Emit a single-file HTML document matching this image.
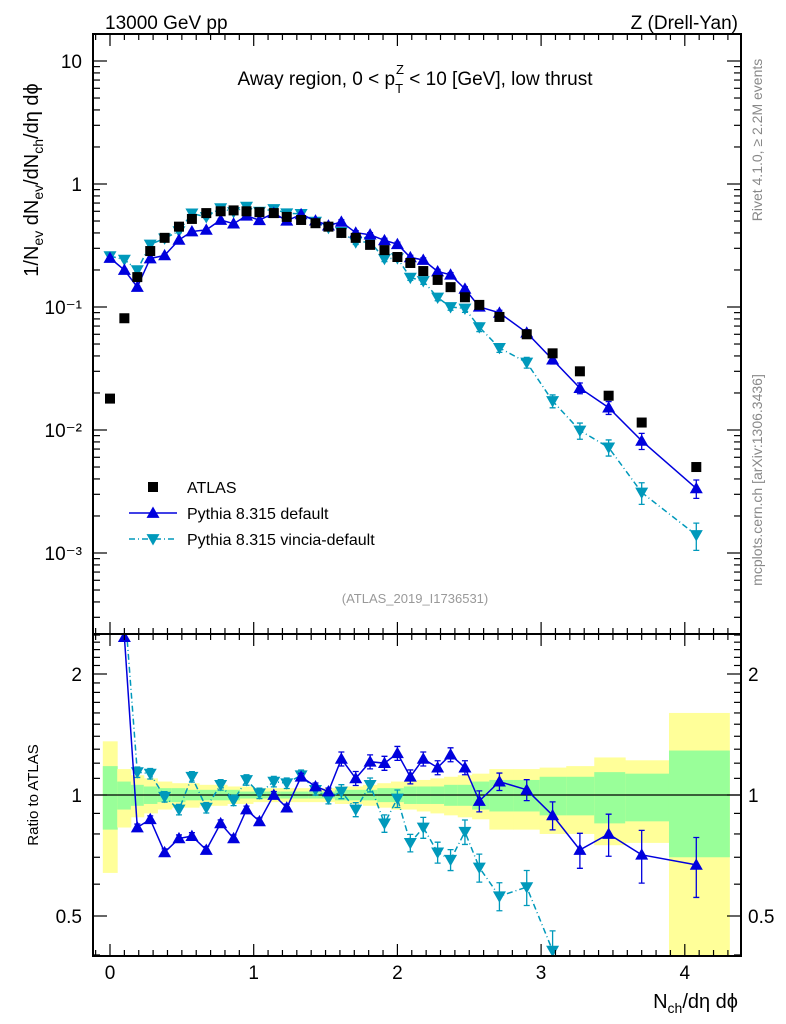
<!DOCTYPE html>
<html><head><meta charset="utf-8">
<style>
html,body{margin:0;padding:0;background:#fff;}
svg{display:block;font-family:"Liberation Sans",sans-serif;}
</style></head>
<body>
<svg id="c" width="786" height="1024" viewBox="0 0 786 1024" xmlns="http://www.w3.org/2000/svg">
<defs>
<clipPath id="cm"><rect x="93" y="34" width="648" height="600"/></clipPath>
<clipPath id="cr"><rect x="93" y="634" width="648" height="322"/></clipPath>
</defs>
<text x="105" y="29" font-size="19">13000 GeV pp</text>
<text x="738" y="29" font-size="19" text-anchor="end">Z (Drell-Yan)</text>
<text x="415" y="85" font-size="19" text-anchor="middle">Away region, 0 &lt; p<tspan font-size="13" dy="8">T</tspan><tspan font-size="13" dx="-7" dy="-19">Z</tspan><tspan dy="11"> &lt; 10 [GeV], low thrust</tspan></text>
<text transform="translate(762,140) rotate(-90)" font-size="14" fill="#888" text-anchor="middle">Rivet 4.1.0, ≥ 2.2M events</text>
<text transform="translate(762,480) rotate(-90)" font-size="14" fill="#888" text-anchor="middle">mcplots.cern.ch [arXiv:1306.3436]</text>
<text transform="translate(38,180) rotate(-90)" font-size="20" text-anchor="middle">1/N<tspan font-size="14" dy="5">ev</tspan><tspan dy="-5"> dN</tspan><tspan font-size="14" dy="5">ev</tspan><tspan dy="-5">/dN</tspan><tspan font-size="14" dy="5">ch</tspan><tspan dy="-5">/dη dϕ</tspan></text>
<text transform="translate(38,795) rotate(-90)" font-size="15" text-anchor="middle">Ratio to ATLAS</text>
<text x="738" y="1008" font-size="20" text-anchor="end">N<tspan font-size="14" dy="5">ch</tspan><tspan dy="-5">/dη dϕ</tspan></text>
<text x="415" y="603" font-size="13" fill="#999" text-anchor="middle">(ATLAS_2019_I1736531)</text>
<g id="bands" clip-path="url(#cr)"></g>
<g id="gm" clip-path="url(#cm)"></g>
<g id="gr" clip-path="url(#cr)"></g>
<g id="axes"></g>
<g id="legend"></g>
</svg>
<script>
const xs=[0,0.1,0.19,0.28,0.38,0.48,0.57,0.67,0.77,0.86,0.95,1.04,1.14,1.23,1.33,1.43,1.52,1.61,1.71,1.81,1.91,2.0,2.09,2.18,2.28,2.37,2.47,2.57,2.71,2.90,3.08,3.27,3.47,3.70,4.08];
const atlas=[0.018,0.081,0.175,0.285,0.365,0.45,0.52,0.58,0.60,0.61,0.60,0.59,0.58,0.54,0.51,0.48,0.45,0.40,0.365,0.32,0.29,0.255,0.228,0.196,0.166,0.145,0.12,0.104,0.083,0.060,0.042,0.030,0.019,0.0115,0.0050];
const ratioDefault=[13.9,2.47,0.83,0.87,0.72,0.78,0.79,0.73,0.85,0.78,0.92,0.86,1.0,0.93,1.11,1.05,1.02,1.23,1.10,1.21,1.20,1.27,1.11,1.23,1.17,1.26,1.17,0.966,1.08,1.03,0.89,0.73,0.80,0.71,0.67];
const ratioVincia=[14.4,3.0,1.14,1.13,0.99,0.92,1.11,0.93,1.06,0.97,1.09,1.01,1.08,1.07,1.12,1.03,0.98,1.02,0.92,1.06,0.85,0.98,0.76,0.83,0.72,0.69,0.81,0.66,0.56,0.59,0.41,0.33,0.38,0.27,0.28];
const errDefault=[0.02,0.02,0.02,0.02,0.02,0.02,0.02,0.02,0.02,0.02,0.02,0.02,0.02,0.02,0.02,0.02,0.02,0.04,0.04,0.04,0.04,0.04,0.04,0.04,0.04,0.04,0.04,0.06,0.05,0.06,0.08,0.1,0.12,0.15,0.17];
const errVincia=[0.02,0.02,0.03,0.03,0.03,0.03,0.03,0.03,0.03,0.03,0.03,0.03,0.03,0.03,0.03,0.03,0.03,0.04,0.04,0.04,0.05,0.05,0.05,0.06,0.06,0.06,0.07,0.08,0.08,0.1,0.12,0.15,0.15,0.2,0.25];
const yelHi=[1.36,1.16,1.12,1.10,1.08,1.07,1.07,1.06,1.06,1.05,1.05,1.04,1.04,1.04,1.04,1.04,1.04,1.05,1.05,1.06,1.07,1.08,1.08,1.09,1.10,1.11,1.12,1.13,1.16,1.16,1.17,1.18,1.24,1.22,1.60];
const yelLo=[0.64,0.83,0.88,0.90,0.92,0.93,0.93,0.94,0.94,0.95,0.95,0.96,0.96,0.96,0.96,0.96,0.96,0.95,0.95,0.94,0.93,0.92,0.92,0.91,0.90,0.89,0.88,0.87,0.82,0.82,0.80,0.80,0.75,0.76,0.38];
const grnHi=[1.18,1.08,1.06,1.05,1.04,1.04,1.03,1.03,1.03,1.03,1.02,1.02,1.02,1.02,1.02,1.02,1.02,1.03,1.03,1.03,1.04,1.04,1.05,1.05,1.05,1.06,1.06,1.08,1.09,1.09,1.11,1.11,1.14,1.13,1.29];
const grnLo=[0.82,0.92,0.94,0.95,0.96,0.96,0.97,0.97,0.97,0.97,0.98,0.98,0.98,0.98,0.98,0.98,0.98,0.97,0.97,0.97,0.96,0.96,0.95,0.95,0.95,0.94,0.94,0.92,0.91,0.91,0.89,0.89,0.85,0.86,0.70];
const xTicks=[0,1,2,3,4];
const mainTicks=[1e-3,1e-2,1e-1,1,10];
const mainTickLabels=["10⁻³","10⁻²","10⁻¹","1","10"];
const ratioTicks=[0.5,1,2];
const ratioTickLabels=["0.5","1","2"];

const NS="http://www.w3.org/2000/svg";
const X=v=>110+143.7*v;
const YM=v=>184-123*Math.log10(v);
const YR=v=>795-121*Math.log2(v);
const RMIN=0.40;
function mk(parent,tag,attrs){const e=document.createElementNS(NS,tag);for(const k in attrs)e.setAttribute(k,attrs[k]);parent.appendChild(e);return e;}
const gm=document.getElementById('gm'),gr=document.getElementById('gr'),gb=document.getElementById('bands'),ax=document.getElementById('axes'),lg=document.getElementById('legend');

const edges=[-0.05];
for(let i=0;i<xs.length-1;i++)edges.push((xs[i]+xs[i+1])/2);
edges.push(4.31);
for(let i=0;i<xs.length;i++){
  const x0=X(edges[i]),x1=X(edges[i+1]);
  const y=mk(gb,'rect',{x:x0,y:YR(yelHi[i]),width:x1-x0+0.5,height:YR(yelLo[i])-YR(yelHi[i]),fill:'#ffff99'});
  
  
  const g=mk(gb,'rect',{x:x0,y:YR(grnHi[i]),width:x1-x0+0.5,height:YR(grnLo[i])-YR(grnHi[i]),fill:'#99ff99'});
  
  
}
const one=mk(gr,'line',{x1:93,x2:741,y1:YR(1),y2:YR(1),stroke:'#000','stroke-width':1.3});



function tri(g,x,y,up,col){
  const s=6.5;
  const pts=up?`${x},${y-s} ${x-s},${y+s*0.75} ${x+s},${y+s*0.75}`:`${x},${y+s} ${x-s},${y-s*0.75} ${x+s},${y-s*0.75}`;
  return mk(g,'polygon',{points:pts,fill:col});
}
function series(g,Y,vals,errs,col,dash,up,name,minV){
  const idx=vals.map((v,i)=>i).filter(i=>minV===undefined||vals[i]>=minV);
  const d=idx.map((i,j)=>(j?'L':'M')+X(xs[i]).toFixed(1)+','+Y(vals[i]).toFixed(1)).join('');
  const p=mk(g,'path',{d:d,fill:'none',stroke:col,'stroke-width':1.5});
  if(dash)p.setAttribute('stroke-dasharray',dash);
  
  
  idx.forEach(i=>{
    const v=vals[i];
    const x=X(xs[i]);
    const e=mk(g,'path',{d:`M${x},${Y(v*(1+errs[i]))}V${Y(v*(1-errs[i]))}M${x-3},${Y(v*(1+errs[i]))}h6M${x-3},${Y(v*(1-errs[i]))}h6`,stroke:col,'stroke-width':1.3,fill:'none'});
    
    
    const m=tri(g,x,Y(v),up,col);
    
    
  });
}
const blue='#0000dd',cyan='#0099bb',dd='6,3,1,3';
const mainDef=atlas.map((a,i)=>a*ratioDefault[i]);
const mainVin=atlas.map((a,i)=>a*ratioVincia[i]);
series(gm,YM,mainVin,errVincia,cyan,dd,false,'vincia');
series(gm,YM,mainDef,errDefault,blue,null,true,'default');
atlas.forEach((v,i)=>{
  const r=mk(gm,'rect',{x:X(xs[i])-5,y:YM(v)-5,width:10,height:10,fill:'#000'});
  
  
});
series(gr,YR,ratioVincia,errVincia,cyan,dd,false,'vincia-ratio',RMIN);
series(gr,YR,ratioDefault,errDefault,blue,null,true,'default-ratio',RMIN);

function frame(y0,y1,name){
  const r=mk(ax,'rect',{x:93,y:y0,width:648,height:y1-y0,fill:'none',stroke:'#000','stroke-width':2});
  
  
  for(let k=-1;k<=43;k++){
    const v=k/10;const x=X(v);if(x<94||x>740)continue;
    const L=(k%10===0)?12:6;
    mk(ax,'line',{x1:x,x2:x,y1:y1,y2:y1-L,stroke:'#000','stroke-width':1.2});
    mk(ax,'line',{x1:x,x2:x,y1:y0,y2:y0+L,stroke:'#000','stroke-width':1.2});
  }
}
frame(34,634,'main-panel-frame');
frame(634,956,'ratio-panel-frame');
for(let e=-4;e<=1;e++){for(let m=1;m<10;m++){
  const v=m*Math.pow(10,e);const y=YM(v);if(y<35||y>633)continue;
  const L=m===1?14:7;
  mk(ax,'line',{x1:93,x2:93+L,y1:y,y2:y,stroke:'#000','stroke-width':1.2});
  mk(ax,'line',{x1:741,x2:741-L,y1:y,y2:y,stroke:'#000','stroke-width':1.2});
}}
mainTicks.forEach((v,i)=>{
  const t=mk(ax,'text',{x:82,y:YM(v)+7,'font-size':19,'text-anchor':'end'});
  t.textContent=mainTickLabels[i];
  
  
});
for(let k=4;k<=25;k++){
  const v=k/10;const y=YR(v);if(y<635||y>955)continue;
  const major=ratioTicks.includes(v);const L=major?14:7;
  mk(ax,'line',{x1:93,x2:93+L,y1:y,y2:y,stroke:'#000','stroke-width':1.2});
  mk(ax,'line',{x1:741,x2:741-L,y1:y,y2:y,stroke:'#000','stroke-width':1.2});
}
ratioTicks.forEach((v,i)=>{
  const t=mk(ax,'text',{x:82,y:YR(v)+7,'font-size':19,'text-anchor':'end'});
  t.textContent=ratioTickLabels[i];
  
  
  const t2=mk(ax,'text',{x:748,y:YR(v)+7,'font-size':19});
  t2.textContent=ratioTickLabels[i];
  
  
});
xTicks.forEach(v=>{
  const t=mk(ax,'text',{x:X(v),y:979,'font-size':19,'text-anchor':'middle'});
  t.textContent=String(v);
  
  
});

const lsq=mk(lg,'rect',{x:148,y:482,width:10,height:10,fill:'#000'});


const l1=mk(lg,'line',{x1:129,x2:177,y1:513,y2:513,stroke:blue,'stroke-width':1.5});


tri(lg,153,513,true,blue);
const l2=mk(lg,'line',{x1:129,x2:177,y1:539,y2:539,stroke:cyan,'stroke-width':1.5,'stroke-dasharray':dd});


tri(lg,153,539,false,cyan);
[["ATLAS",493],["Pythia 8.315 default",519],["Pythia 8.315 vincia-default",545]].forEach(a=>{
  const t=mk(lg,'text',{x:187,y:a[1],'font-size':16});
  t.textContent=a[0];
  
  
});
</script>
</body></html>
